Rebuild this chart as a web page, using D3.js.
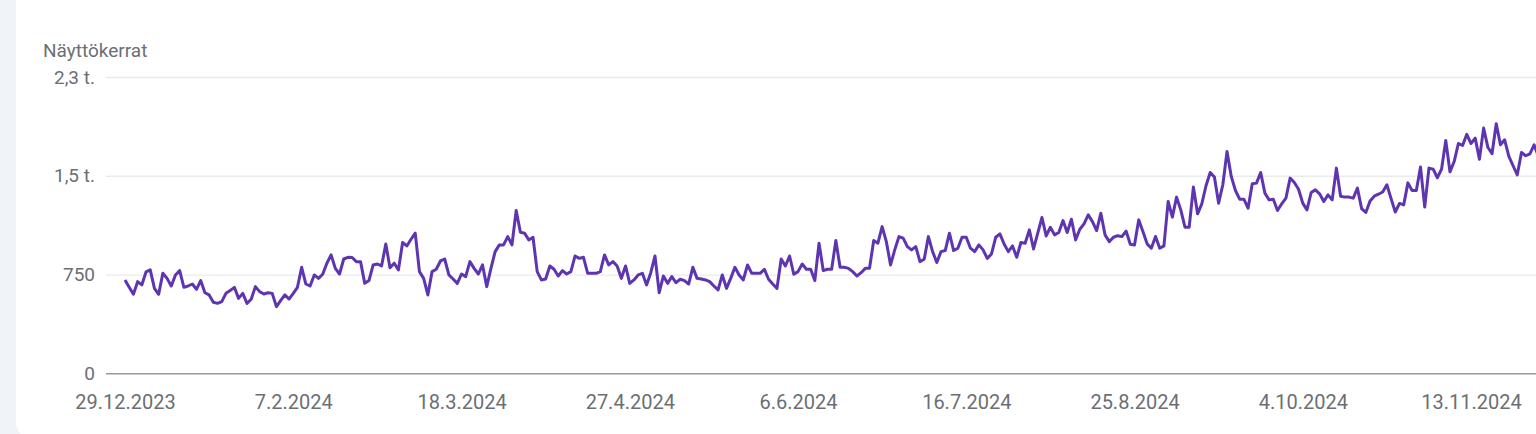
<!DOCTYPE html>
<html>
<head>
  <meta charset="UTF-8">
  <style>
    html, body { margin: 0; padding: 0; background: #f0f4f9; overflow: hidden; }
    svg { display: block; }
    text { font-family: Roboto, "Noto Sans", sans-serif; fill: #6b6f73; }
  </style>
  <title>Näyttökerrat</title>
</head>
<body>
<svg></svg>
<script src="https://d3js.org/d3.v7.min.js"></script>

<script>

let width = 1536, height = 434;

// daily impressions from 29.12.2023
const startDate = "2023-12-29";
const values = [
  709, 653, 600, 696, 671, 770, 785, 645, 600, 760, 721, 663, 747, 780, 653, 663, 678, 638, 704, 612,
  595, 539, 531, 544, 607, 628, 653, 569, 607, 531, 562, 658, 620, 602, 612, 607, 506, 552, 595, 564,
  607, 653, 805, 678, 663, 747, 721, 752, 836, 899, 797, 754, 868, 881, 879, 848, 848, 683, 704, 823,
  830, 815, 982, 802, 836, 785, 993, 967, 1018, 1064, 772, 721, 595, 772, 790, 853, 868, 747, 716, 683,
  754, 734, 848, 797, 754, 823, 658, 797, 924, 975, 975, 1038, 975, 1236, 1071, 1064, 1013, 1033, 772, 709,
  716, 815, 790, 739, 780, 754, 772, 891, 873, 881, 759, 759, 759, 772, 899, 823, 848, 815, 721, 815,
  683, 709, 747, 759, 671, 764, 891, 612, 739, 683, 734, 688, 714, 704, 678, 805, 721, 716, 709, 696,
  663, 633, 747, 645, 721, 805, 747, 709, 823, 759, 759, 759, 790, 714, 678, 645, 868, 815, 891, 752,
  772, 830, 790, 790, 704, 988, 780, 790, 790, 1008, 805, 805, 797, 772, 739, 764, 797, 797, 1008, 988,
  1114, 1000, 823, 937, 1038, 1026, 962, 937, 962, 848, 866, 1038, 924, 841, 924, 932, 1064, 932, 950, 1033,
  1033, 950, 924, 975, 937, 873, 906, 1033, 1059, 982, 924, 967, 881, 993, 988, 1089, 944, 1064, 1183, 1043,
  1109, 1051, 1069, 1160, 1069, 1170, 1013, 1094, 1135, 1203, 1152, 1084, 1216, 1051, 1000, 1033, 1045, 1038, 1080, 980,
  975, 1165, 1077, 983, 950, 1039, 950, 968, 1305, 1186, 1338, 1241, 1110, 1110, 1414, 1211, 1287, 1424, 1525, 1490,
  1292, 1432, 1685, 1495, 1388, 1322, 1322, 1254, 1439, 1444, 1525, 1368, 1317, 1322, 1236, 1287, 1330, 1482, 1449, 1398,
  1292, 1241, 1373, 1393, 1363, 1305, 1355, 1317, 1558, 1345, 1338, 1338, 1330, 1406, 1250, 1221, 1308, 1345, 1360, 1377,
  1432, 1326, 1225, 1290, 1279, 1446, 1388, 1388, 1566, 1262, 1558, 1550, 1485, 1550, 1768, 1530, 1608, 1745, 1730, 1815,
  1745, 1786, 1626, 1862, 1717, 1667, 1895, 1735, 1773, 1647, 1576, 1507, 1677, 1652, 1667, 1735, 1650
];

const yTicks = [0, 750, 1500, 2250];
const yTickLabels = ["0", "750", "1,5 t.", "2,3 t."];
const xTickLabels = ["29.12.2023", "7.2.2024", "18.3.2024", "27.4.2024", "6.6.2024",
                     "16.7.2024", "25.8.2024", "4.10.2024", "13.11.2024"];
const title = "Näyttökerrat";

let parseDay = d3.timeParse("%Y-%m-%d");
let parseLabel = d3.timeParse("%d.%m.%Y");
let t0 = parseDay(startDate);
let data = values.map((v, i) => ({ date: d3.timeDay.offset(t0, i), value: v }));

let svg = d3.select("svg")
    .attr("width", width)
    .attr("height", height);

// white card
svg.append("rect")
    .attr("x", 16).attr("y", -30)
    .attr("width", width + 40).attr("height", 470)
    .attr("rx", 18)
    .attr("fill", "#ffffff");

let x = d3.scaleTime()
    .domain([t0, parseLabel("13.11.2024")])
    .range([125, 1471]);

let y = d3.scaleLinear()
    .domain([0, 2250])
    .range([373.3, 77]);

// gridlines + y labels
let yAxis = svg.append("g")
    .attr("transform", "translate(106,0)")
    .call(d3.axisLeft(y).tickValues(yTicks)
        .tickSize(-(width - 106))
        .tickPadding(11)
        .tickFormat((d, i) => yTickLabels[i]));
yAxis.select(".domain").remove();
yAxis.selectAll(".tick line")
    .attr("stroke", (d) => d === 0 ? "#9a9a9a" : "#ebebeb")
    .attr("stroke-width", (d) => d === 0 ? 1.6 : 1.3);
yAxis.selectAll(".tick text")
    .attr("font-size", 19)
    .attr("fill", "#6b6f73")
    .attr("font-family", "Roboto, sans-serif");

// x labels
let xAxis = svg.append("g")
    .attr("transform", "translate(0,373.3)")
    .call(d3.axisBottom(x)
        .tickValues(xTickLabels.map(parseLabel))
        .tickSize(0)
        .tickPadding(22)
        .tickFormat((d, i) => xTickLabels[i]));
xAxis.select(".domain").remove();
xAxis.selectAll(".tick text")
    .attr("font-size", 20)
    .attr("fill", "#6b6f73")
    .attr("font-family", "Roboto, sans-serif");

svg.append("text")
    .attr("x", 43).attr("y", 57)
    .attr("font-size", 19)
    .text(title);

let line = d3.line()
    .x(d => x(d.date))
    .y(d => y(d.value));

svg.append("path")
    .datum(data)
    .attr("fill", "none")
    .attr("stroke", "#5e35b1")
    .attr("stroke-width", 3)
    .attr("stroke-linejoin", "round")
    .attr("d", line);

</script>

</body>
</html>
